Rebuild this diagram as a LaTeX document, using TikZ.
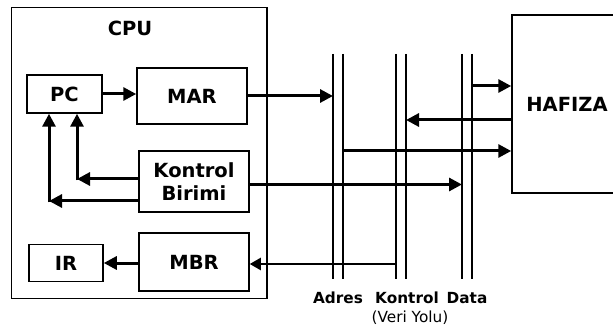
\documentclass[tikz,border=0pt]{standalone}
\usepackage{fontspec}
\setmainfont{DejaVu Sans}
\usetikzlibrary{arrows.meta, positioning, calc}

\begin{document}
\begin{tikzpicture}[
    x=1pt, y=-1pt,
    every node/.style={font=\bfseries\fontsize{19.5}{23}\selectfont},
    unitbox/.style={rectangle, draw, line width=1.5pt, inner sep=0pt, align=center},
    busline/.style={line width=1.8pt},
    flow/.style={line width=3pt, -{Triangle[length=13pt, width=13pt]}},
    thinflow/.style={line width=2.2pt, -{Triangle[length=11pt, width=12pt]}},
    buslabel/.style={font=\bfseries\fontsize{15.3}{17}\selectfont}
]
\clip (0,0) rectangle (613,331);
\fill[white] (0,0) rectangle (613,331);

% CPU and its registers
\node[unitbox, minimum width=255.5pt, minimum height=291pt] (cpu) at (139.25,153) {};
\node (cpulabel) at (130,28) {CPU};
\node[unitbox, minimum width=75pt, minimum height=38pt] (pc) at (64.5,94) {PC};
\node[unitbox, minimum width=110pt, minimum height=56pt] (mar) at (192,96) {MAR};
\node[unitbox, minimum width=110pt, minimum height=61pt] (kb) at (194,181.5) {Kontrol\\Birimi};
\node[unitbox, minimum width=110pt, minimum height=58pt] (mbr) at (194,262) {MBR};
\node[unitbox, minimum width=74pt, minimum height=37pt] (ir) at (66,263) {IR};

% memory
\node[unitbox, minimum width=110pt, minimum height=178pt] (hafiza) at (567,104) {HAFIZA};

% bus lines
\foreach \bus/\xl in {adres/333, kontrol/396, data/462} {
  \coordinate (\bus L) at (\xl,54);
  \coordinate (\bus R) at (\xl+10,54);
  \draw[busline] (\bus L) -- ++(0,225);
  \draw[busline] (\bus R) -- ++(0,225);
}
\node[buslabel] (adreslabel) at (338,298) {Adres};
\node[buslabel] (kontrollabel) at (407,298) {Kontrol};
\node[buslabel] (datalabel) at (467,298) {Data};
\node[buslabel, font=\fontsize{15.3}{17}\selectfont] (veriyolu) at (410,318) {(Veri Yolu)};

% connections
\draw[flow] (pc.east) -- (pc.east -| mar.west);
\draw[flow] (mar.east) -- (mar.east -| adresL);
\draw[flow] ([yshift=18pt]hafiza.west -| dataR) -- ([yshift=18pt]hafiza.west);
\draw[flow] ([yshift=-16pt]hafiza.west) -- ([yshift=-16pt]hafiza.west -| kontrolR);
\draw[flow] ([yshift=-47pt]hafiza.west -| adresR) -- ([yshift=-47pt]hafiza.west);
\draw[flow] ([yshift=-3pt]kb.east) -- ([yshift=-3pt]kb.east -| dataL);
\draw[thinflow] ([yshift=-2pt]mbr.east -| kontrolL) -- ([yshift=-2pt]mbr.east);
\draw[flow] (mbr.west |- ir.east) -- (ir.east);

\coordinate (inner) at (77,179);
\coordinate (outer) at (49,201);
\draw[flow] (kb.west |- inner) -- (inner);
\draw[flow] ([yshift=-1.5pt]inner) -- (inner |- pc.south);
\draw[flow] (kb.west |- outer) -- (outer);
\draw[flow] ([yshift=-1.5pt]outer) -- (outer |- pc.south);

\end{tikzpicture}
\end{document}
